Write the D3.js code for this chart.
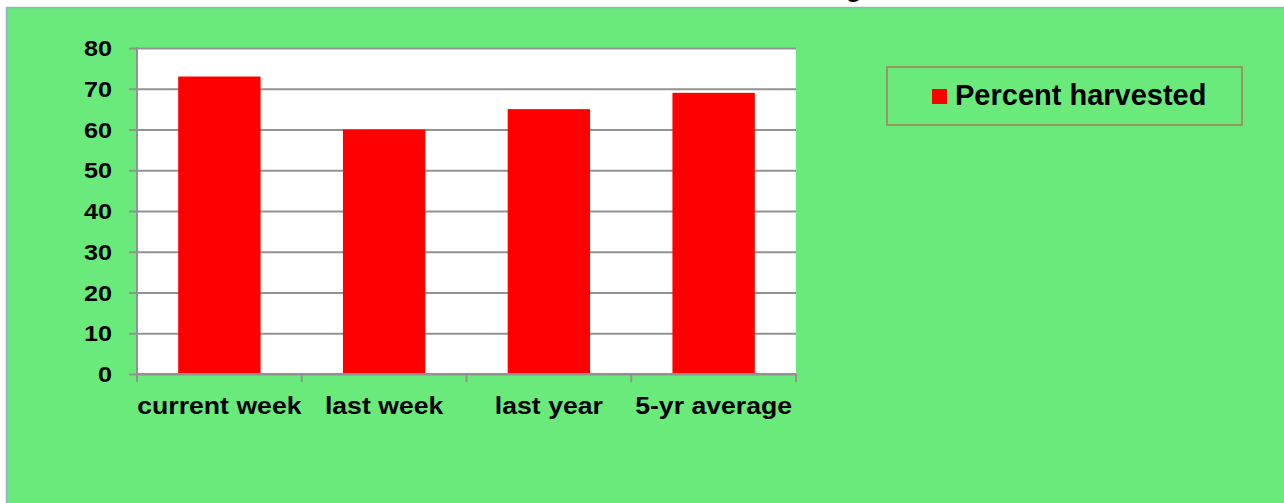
<!DOCTYPE html>
<html>
<head>
<meta charset="utf-8">
<script src="https://cdn.jsdelivr.net/npm/d3@7"></script>
<style>
  html, body { margin: 0; padding: 0; background: #fff; }
  svg { display: block; }
  text { font-family: "Liberation Sans", Arial, sans-serif; font-weight: bold; fill: #000; }
</style>
</head>
<body>
<svg id="chart" width="1284" height="503"></svg>
<script>
const categories = ["current week", "last week", "last year", "5-yr average"];
const percentHarvested = [73, 60, 65, 69];
const yTicks = [0, 10, 20, 30, 40, 50, 60, 70, 80];
const seriesName = "Percent harvested";
const titleText = "Harvesting";

const WIDTH = 1284;
const HEIGHT = 503;
const PLOT = { left: 137, right: 796, top: 48, bottom: 374 };
const GREEN = "#69ea7b";
const GRID = "#929292";

const svg = d3.select("#chart");

// panel background
svg.append("rect")
  .attr("x", 6.5).attr("y", 7.5)
  .attr("width", WIDTH).attr("height", HEIGHT)
  .attr("fill", GREEN)
  .attr("stroke", "#8fb3cf")
  .attr("stroke-width", 1.5);

// title, mostly cut off above the frame (as in the reference)
svg.append("text")
  .attr("x", 862).attr("y", -4)
  .attr("text-anchor", "end")
  .style("font-size", "27px")
  .text(titleText);

const xScale = d3.scaleBand()
  .domain(categories)
  .range([PLOT.left, PLOT.right])
  .paddingInner(0.5)
  .paddingOuter(0.25);

const xBounds = d3.scalePoint()
  .domain(d3.range(categories.length + 1))
  .range([PLOT.left, PLOT.right]);

const yScale = d3.scaleLinear()
  .domain([0, 80])
  .range([PLOT.bottom, PLOT.top]);

// plot area
svg.append("rect")
  .attr("x", PLOT.left).attr("y", PLOT.top)
  .attr("width", PLOT.right - PLOT.left)
  .attr("height", PLOT.bottom - PLOT.top)
  .attr("fill", "#fff");

// gridlines + y ticks
svg.append("g")
  .attr("transform", `translate(${PLOT.left},0)`)
  .call(d3.axisLeft(yScale).tickValues(yTicks).tickSize(-(PLOT.right - PLOT.left)).tickSizeOuter(0).tickFormat(""))
  .call((g) => g.select(".domain").remove())
  .call((g) => g.selectAll("line").attr("stroke", GRID).attr("stroke-width", 2).attr("x1", -8));

// bars
svg.selectAll("rect.bar")
  .data(percentHarvested)
  .enter()
  .append("rect")
  .attr("class", "bar")
  .attr("x", (d, i) => xScale(categories[i]))
  .attr("y", (d) => yScale(d))
  .attr("width", xScale.bandwidth())
  .attr("height", (d) => yScale(0) - yScale(d))
  .attr("fill", "#ff0000");

// y axis line
svg.append("line")
  .attr("x1", PLOT.left).attr("x2", PLOT.left)
  .attr("y1", PLOT.top - 1).attr("y2", PLOT.bottom)
  .attr("stroke", GRID).attr("stroke-width", 2);

// x axis line + boundary ticks
svg.append("line")
  .attr("x1", PLOT.left).attr("x2", PLOT.right)
  .attr("y1", PLOT.bottom).attr("y2", PLOT.bottom)
  .attr("stroke", GRID).attr("stroke-width", 2);

svg.selectAll("line.xtick")
  .data(xBounds.domain())
  .enter()
  .append("line")
  .attr("class", "xtick")
  .attr("x1", (d) => xBounds(d)).attr("x2", (d) => xBounds(d))
  .attr("y1", PLOT.bottom).attr("y2", PLOT.bottom + 8)
  .attr("stroke", GRID).attr("stroke-width", 2);

// y tick labels
svg.selectAll("text.ylab")
  .data(yTicks)
  .enter()
  .append("text")
  .attr("class", "ylab")
  .attr("transform", (d) => `translate(112,${yScale(d)}) scale(1.12,1)`)
  .attr("text-anchor", "end")
  .attr("dy", "0.36em")
  .style("font-size", "22.5px")
  .text((d) => d);

// x labels
svg.selectAll("text.xlab")
  .data(categories)
  .enter()
  .append("text")
  .attr("class", "xlab")
  .attr("transform", (d) => `translate(${xScale(d) + xScale.bandwidth() / 2},414) scale(1.12,1)`)
  .attr("text-anchor", "middle")
  .style("font-size", "23.8px")
  .text((d) => d);

// legend
const legend = svg.append("g");
legend.append("rect")
  .attr("x", 887).attr("y", 67)
  .attr("width", 355).attr("height", 58)
  .attr("fill", "none")
  .attr("stroke", "#9a8f5e")
  .attr("stroke-width", 1.8);
legend.append("rect")
  .attr("x", 932).attr("y", 89)
  .attr("width", 15).attr("height", 15)
  .attr("fill", "#ff0000");
legend.append("text")
  .attr("x", 955).attr("y", 105)
  .style("font-size", "29px")
  .text(seriesName);
</script>
</body>
</html>
